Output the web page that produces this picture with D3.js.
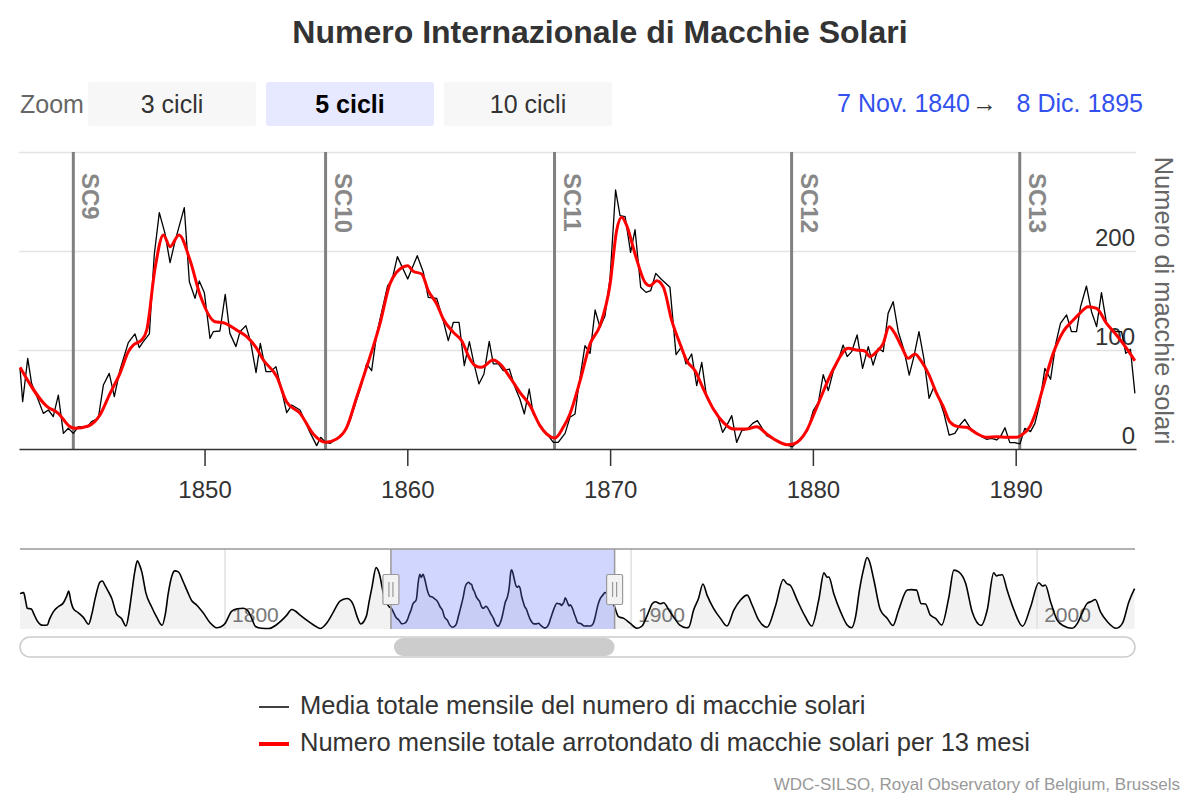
<!DOCTYPE html>
<html><head><meta charset="utf-8">
<script src="https://cdn.jsdelivr.net/npm/d3@7"></script>
<style>body{margin:0;background:#fff}svg{display:block;font-family:"Liberation Sans",Arial,Helvetica,sans-serif}</style>
</head><body><svg id="c" width="1200" height="800"></svg>
<script>
// ---------------- DATA ----------------
const titleText = "Numero Internazionale di Macchie Solari";
const zoomLabel = "Zoom";
const zoomButtons = ["3 cicli", "5 cicli", "10 cicli"];
const selectedButton = 1;
const rangeFrom = "7 Nov. 1840";
const rangeTo = "8 Dic. 1895";
const viewStart = [1840, 10, 7];   // y, m(0-based), d
const viewEnd = [1895, 11, 8];
const xTickYears = [1850, 1860, 1870, 1880, 1890];
const yGridTicks = [0, 100, 200, 300];
const yLabelTicks = [0, 100, 200];
const yAxisTitle = "Numero di macchie solari";
const cycleNames = ["SC9", "SC10", "SC11", "SC12", "SC13"];
const cycleStarts = [1843.53, 1855.97, 1867.26, 1878.95, 1890.2];
const navTickYears = [1800, 1900, 2000];
const navExtent = [1749.5, 2024.1];
const legendLabels = ["Media totale mensile del numero di macchie solari",
  "Numero mensile totale arrotondato di macchie solari per 13 mesi"];
const creditText = "WDC-SILSO, Royal Observatory of Belgium, Brussels";

const monthlyMean = [[1840.90,81.5],[1841.03,47.8],[1841.28,91.6],[1841.47,66.3],[1841.80,49.5],[1842.05,36.0],[1842.30,39.4],[1842.54,32.7],[1842.79,54.5],[1843.04,15.8],[1843.28,20.9],[1843.53,15.8],[1843.78,22.6],[1844.19,21.9],[1844.43,27.6],[1844.76,31.0],[1845.01,64.6],[1845.30,76.4],[1845.55,52.9],[1845.83,79.8],[1846.24,107.4],[1846.57,116.2],[1846.78,102.4],[1846.98,108.4],[1847.28,116.2],[1847.52,196.0],[1847.77,238.7],[1848.05,217.8],[1848.30,188.2],[1848.54,209.4],[1849.00,243.8],[1849.25,169.0],[1849.53,152.2],[1849.74,169.7],[1849.99,157.9],[1850.27,111.8],[1850.43,118.5],[1850.76,119.2],[1851.02,156.2],[1851.25,116.8],[1851.55,103.4],[1851.75,118.5],[1852.04,124.6],[1852.27,108.4],[1852.54,77.1],[1852.75,106.7],[1853.03,78.1],[1853.26,78.1],[1853.52,83.2],[1853.77,62.0],[1854.05,36.7],[1854.30,44.4],[1854.71,39.4],[1855.20,16.8],[1855.53,3.4],[1855.73,11.8],[1855.97,6.7],[1856.19,5.7],[1856.51,10.1],[1856.93,18.5],[1857.17,28.6],[1857.75,65.7],[1857.99,85.9],[1858.24,79.1],[1858.49,116.2],[1859.03,165.0],[1859.24,170.0],[1859.51,194.3],[1860.02,171.7],[1860.49,195.3],[1860.79,178.5],[1861.03,153.2],[1861.45,152.2],[1861.77,129.6],[1862.02,109.4],[1862.27,128.0],[1862.55,128.0],[1862.81,84.2],[1863.06,108.4],[1863.29,85.9],[1863.53,65.7],[1863.78,75.8],[1864.04,108.8],[1864.24,85.9],[1864.49,85.9],[1864.73,79.1],[1865.03,80.8],[1865.31,62.3],[1865.55,50.5],[1865.77,35.4],[1866.01,60.6],[1866.21,35.4],[1866.46,26.9],[1866.71,18.5],[1866.95,13.5],[1867.20,6.7],[1867.44,6.7],[1867.78,15.8],[1868.02,32.0],[1868.27,35.4],[1868.43,60.6],[1868.76,104.4],[1869.01,96.6],[1869.26,140.4],[1869.50,122.9],[1869.75,134.7],[1870.00,173.4],[1870.27,261.6],[1870.49,235.7],[1870.74,234.7],[1871.01,198.7],[1871.23,221.5],[1871.51,163.3],[1871.77,158.2],[1872.00,159.9],[1872.25,177.4],[1872.51,171.7],[1872.95,163.3],[1873.25,95.3],[1873.53,103.4],[1873.74,85.9],[1874.02,96.0],[1874.27,64.0],[1874.52,87.5],[1874.76,52.2],[1875.06,41.4],[1875.29,35.4],[1875.55,16.8],[1875.75,23.6],[1876.00,33.7],[1876.24,6.7],[1876.49,18.5],[1876.77,20.2],[1877.03,25.9],[1877.26,28.6],[1877.47,21.9],[1877.72,13.5],[1878.21,8.4],[1878.71,4.0],[1879.00,2.4],[1879.28,8.4],[1879.73,18.5],[1880.02,38.7],[1880.27,47.1],[1880.51,75.1],[1880.76,58.9],[1881.01,79.1],[1881.25,89.2],[1881.49,105.0],[1881.69,93.3],[1881.91,98.3],[1882.18,115.2],[1882.45,81.5],[1882.73,103.4],[1882.97,84.8],[1883.22,101.7],[1883.47,98.3],[1883.71,137.0],[1883.96,148.8],[1884.21,118.5],[1884.49,100.0],[1884.75,74.7],[1884.98,93.3],[1885.23,118.5],[1885.47,91.6],[1885.73,51.2],[1885.97,63.0],[1886.23,50.2],[1886.46,36.0],[1886.72,14.1],[1887.00,15.8],[1887.25,24.2],[1887.49,30.0],[1887.77,20.9],[1888.04,16.5],[1888.32,12.5],[1888.56,9.8],[1888.81,10.8],[1889.06,9.1],[1889.25,12.5],[1889.47,21.5],[1889.71,6.4],[1889.96,6.4],[1890.21,5.1],[1890.45,20.9],[1890.73,17.5],[1890.95,25.9],[1891.19,46.1],[1891.44,81.5],[1891.72,70.4],[1891.98,106.7],[1892.21,126.9],[1892.51,135.4],[1892.75,118.5],[1893.00,118.5],[1893.20,143.8],[1893.49,164.6],[1893.74,138.7],[1893.99,123.6],[1894.23,157.9],[1894.48,126.9],[1894.73,120.2],[1894.97,118.5],[1895.22,118.5],[1895.43,96.6],[1895.66,100.7],[1895.88,56.2]];

const smoothed13 = [[1840.90,82.5],[1842.21,43.4],[1842.79,36.0],[1843.36,22.6],[1843.61,20.9],[1844.27,23.2],[1844.84,34.3],[1845.34,56.2],[1845.83,76.4],[1846.24,98.3],[1846.49,105.0],[1846.90,110.1],[1847.15,120.2],[1847.56,182.5],[1847.97,216.2],[1848.30,204.4],[1848.74,216.2],[1849.28,190.9],[1849.78,155.6],[1850.52,128.6],[1850.93,127.6],[1851.58,120.2],[1852.08,113.5],[1852.57,101.7],[1852.90,89.9],[1853.56,73.1],[1854.05,47.5],[1854.71,36.0],[1855.36,15.2],[1855.97,6.7],[1856.51,10.1],[1857.01,21.9],[1857.50,52.2],[1857.99,82.5],[1858.65,126.3],[1859.14,166.7],[1859.47,178.5],[1860.02,185.2],[1860.29,179.5],[1860.71,176.8],[1861.03,159.9],[1861.45,146.5],[1861.77,131.3],[1862.27,117.8],[1862.68,109.4],[1863.09,90.9],[1863.34,84.2],[1863.66,82.5],[1864.24,89.9],[1864.57,85.9],[1865.06,72.4],[1865.55,57.2],[1866.05,43.8],[1866.54,23.6],[1867.12,11.8],[1867.28,11.1],[1867.69,21.9],[1868.02,35.4],[1868.52,69.0],[1869.01,106.1],[1869.50,124.6],[1870.00,166.7],[1870.32,220.5],[1870.57,234.0],[1870.82,225.6],[1871.23,197.0],[1871.72,168.4],[1871.97,165.0],[1872.30,170.0],[1872.63,163.3],[1873.04,129.6],[1873.45,106.1],[1873.78,89.2],[1874.19,79.1],[1874.60,60.6],[1875.09,40.4],[1875.58,26.9],[1876.08,20.2],[1876.73,20.2],[1877.23,22.6],[1877.72,15.2],[1878.21,8.4],[1878.71,4.4],[1879.04,5.1],[1879.69,18.5],[1880.19,42.1],[1881.01,80.8],[1881.74,101.7],[1882.15,100.0],[1882.56,99.0],[1882.81,93.3],[1883.14,98.3],[1883.47,106.7],[1883.76,123.6],[1884.04,116.8],[1884.37,103.4],[1884.70,91.6],[1885.03,96.0],[1885.36,88.2],[1885.69,76.4],[1886.10,56.2],[1886.43,42.8],[1886.75,27.6],[1887.17,22.6],[1887.58,21.9],[1888.07,15.8],[1888.56,11.8],[1889.06,12.5],[1889.55,11.8],[1890.04,11.8],[1890.29,14.1],[1890.70,22.6],[1891.03,39.4],[1891.36,63.0],[1891.85,96.6],[1892.34,118.5],[1892.84,130.3],[1893.16,137.0],[1893.57,143.8],[1893.99,142.1],[1894.48,126.9],[1894.97,115.2],[1895.47,101.7],[1895.88,89.2]];

const navBefore = [[1749.5,140],[1750.4,144],[1750.9,110],[1751.3,82],[1752.3,79],[1752.9,60],[1753.6,36],[1754.5,18],[1755.2,15],[1756.2,16],[1756.8,40],[1757.7,68],[1758.9,88],[1760.2,104],[1761.0,130],[1761.5,150],[1762.0,112],[1762.6,82],[1763.9,64],[1765.1,46],[1766.4,19],[1767.2,60],[1768.0,120],[1769.2,186],[1769.8,190],[1770.4,174],[1771.2,150],[1772.1,121],[1773.3,59],[1774.5,42],[1775.6,12],[1776.3,60],[1777.0,140],[1777.8,230],[1778.4,270],[1778.9,255],[1779.5,226],[1780.5,143],[1781.9,88],[1783.2,46],[1784.5,15],[1785.3,60],[1786.0,140],[1787.0,215],[1787.6,230],[1788.5,226],[1789.7,187],[1790.7,150],[1791.8,112],[1793.0,95],[1794.7,62],[1796.3,25],[1797.9,5],[1799.0,9],[1800.0,22],[1801.6,70],[1803.0,80],[1804.5,82],[1805.6,72],[1806.5,45],[1807.5,10],[1809.0,3],[1810.8,2],[1812.5,15],[1814.0,35],[1815.2,55],[1816.4,77],[1817.3,71],[1818.5,55],[1820.1,35],[1821.8,16],[1823.4,2],[1825.1,25],[1826.7,68],[1828.3,110],[1830.0,121],[1830.6,118],[1831.6,95],[1832.5,50],[1833.4,20],[1834.8,51],[1835.5,110],[1836.2,167],[1837.2,243],[1838.0,219],[1839.0,141],[1840.4,88]];

const navAfter = [[1896.9,49],[1898.2,42],[1899.8,22],[1901.5,3],[1902.7,12],[1904.0,55],[1905.2,100],[1906.0,108],[1907.2,100],[1908.0,104],[1909.5,70],[1910.8,40],[1912.0,15],[1913.6,5],[1914.2,7],[1915.4,75],[1916.6,121],[1917.7,178],[1918.7,134],[1920.3,82],[1922.0,42],[1923.6,12],[1925.3,75],[1926.9,114],[1928.6,134],[1929.8,95],[1931.4,36],[1933.5,7],[1935.5,88],[1937.5,196],[1938.3,180],[1939.2,173],[1940.9,114],[1942.9,49],[1944.5,12],[1946.2,114],[1947.5,222],[1948.3,205],[1948.7,206],[1949.9,141],[1951.6,68],[1953.2,16],[1954.3,5],[1955.3,50],[1956.2,150],[1957.3,240],[1958.1,283],[1958.6,272],[1959.8,193],[1961.4,75],[1963.1,42],[1964.5,14],[1965.9,75],[1968.0,154],[1969.0,156],[1970.3,154],[1971.4,101],[1972.5,99],[1973.7,55],[1975.0,42],[1976.5,16],[1978.2,121],[1979.5,233],[1980.7,226],[1982.4,180],[1984.0,68],[1986.2,14],[1987.7,75],[1989.3,222],[1990.0,210],[1990.4,213],[1991.4,215],[1992.6,154],[1994.3,75],[1996.4,11],[1998.4,88],[2000.4,183],[2001.4,170],[2002.0,174],[2003.3,108],[2004.9,36],[2006.6,12],[2008.6,3],[2009.9,22],[2011.0,60],[2012.3,101],[2013.5,110],[2014.3,117],[2015.6,68],[2017.3,29],[2019.5,3],[2021.0,22],[2022.6,108],[2024.0,160]];

// ---------------- DRAW ----------------
function toDate(d) {
  const yr = Math.floor(d), s = new Date(yr, 0, 1), e = new Date(yr + 1, 0, 1);
  return new Date(s.getTime() + (d - yr) * (e - s));
}
function toYear(dt) {
  const yr = dt.getFullYear(), s = new Date(yr, 0, 1), e = new Date(yr + 1, 0, 1);
  return yr + (dt - s) / (e - s);
}
const svg = d3.select("#c");
const P = {l: 19, r: 1136, t: 152, b: 449};
const vStart = new Date(...viewStart), vEnd = new Date(...viewEnd);
const x = d3.scaleTime().domain([vStart, vEnd]).range([P.l, P.r]);
const y = d3.scaleLinear().domain([0, 300]).range([P.b, P.t]);

// title
svg.append("text").attr("x", 600).attr("y", 43).attr("text-anchor", "middle")
  .attr("font-size", 32).attr("font-weight", "bold").attr("fill", "#333").text(titleText);

// range selector
svg.append("text").attr("x", 20).attr("y", 113).attr("font-size", 25).attr("fill", "#666").text(zoomLabel);
const btn = svg.append("g").selectAll("g").data(zoomButtons).join("g")
  .attr("transform", (d, i) => `translate(${88 + i * 178},82)`);
btn.append("rect").attr("width", 168).attr("height", 44).attr("rx", 3)
  .attr("fill", (d, i) => i === selectedButton ? "#e6e9ff" : "#f7f7f7");
btn.append("text").attr("x", 84).attr("y", 31).attr("text-anchor", "middle").attr("font-size", 25)
  .attr("font-weight", (d, i) => i === selectedButton ? "bold" : "normal")
  .attr("fill", (d, i) => i === selectedButton ? "#000" : "#333").text(d => d);
svg.append("text").attr("x", 970).attr("y", 112).attr("text-anchor", "end").attr("font-size", 25).attr("fill", "#3351ee").text(rangeFrom);
svg.append("text").attr("x", 972).attr("y", 112).attr("font-size", 25).attr("fill", "#333").text("\u2192");
svg.append("text").attr("x", 1143).attr("y", 112).attr("text-anchor", "end").attr("font-size", 25).attr("fill", "#3351ee").text(rangeTo);

// grid
svg.append("g").selectAll("line").data(yGridTicks.filter(v => v > 0)).join("line")
  .attr("x1", P.l).attr("x2", P.r).attr("y1", d => y(d) + 0.5).attr("y2", d => y(d) + 0.5)
  .attr("stroke", "#e3e3e3").attr("stroke-width", 1.5);
svg.append("g").selectAll("text").data(yLabelTicks).join("text")
  .attr("x", 1135).attr("y", d => y(d) - 5).attr("text-anchor", "end")
  .attr("font-size", 24).attr("fill", "#333").text(d => d);

// cycle lines
const cyc = svg.append("g").selectAll("g").data(cycleStarts).join("g");
cyc.append("line").attr("x1", d => x(toDate(d))).attr("x2", d => x(toDate(d)))
  .attr("y1", P.t).attr("y2", P.b).attr("stroke", "#808080").attr("stroke-width", 3);
cyc.append("text").attr("transform", d => `translate(${x(toDate(d)) + 9},173) rotate(90)`)
  .attr("font-size", 24).attr("font-weight", "bold").attr("fill", "#888").text((d, i) => cycleNames[i]);

// series
svg.append("clipPath").attr("id", "clip").append("rect")
  .attr("x", P.l).attr("y", P.t - 5).attr("width", P.r - P.l).attr("height", P.b - P.t + 5);
const gS = svg.append("g").attr("clip-path", "url(#clip)");
gS.append("path").datum(monthlyMean)
  .attr("d", d3.line().x(d => x(toDate(d[0]))).y(d => y(d[1])))
  .attr("fill", "none").attr("stroke", "#000").attr("stroke-width", 1.3).attr("stroke-linejoin", "round");
gS.append("path").datum(smoothed13)
  .attr("d", d3.line().curve(d3.curveMonotoneX).x(d => x(toDate(d[0]))).y(d => y(d[1])))
  .attr("fill", "none").attr("stroke", "#f00").attr("stroke-width", 3).attr("stroke-linejoin", "round");

// x axis
const ax = svg.append("g").attr("transform", `translate(0,${P.b})`)
  .call(d3.axisBottom(x).tickValues(xTickYears.map(v => new Date(v, 0, 1)))
    .tickFormat(d3.timeFormat("%Y")).tickSize(17).tickSizeOuter(0).tickPadding(15));
ax.attr("font-family", null).attr("font-size", 24);
ax.select(".domain").attr("stroke", "#333").attr("stroke-width", 1.5);
ax.selectAll(".tick line").attr("stroke", "#333").attr("stroke-width", 1.5);
ax.selectAll(".tick text").attr("fill", "#333");

// axis title
svg.append("text").attr("transform", `translate(1155,${(P.t + P.b) / 2}) rotate(90)`)
  .attr("text-anchor", "middle").attr("font-size", 25.5).attr("fill", "#666").text(yAxisTitle);

// ---------------- NAVIGATOR ----------------
const N = {t: 549, b: 629};
const nx = d3.scaleLinear().domain(navExtent).range([20, 1135]);
const ny = d3.scaleLinear().domain([0, 285]).range([N.b, 557]);
const navData = navBefore.concat(smoothed13, navAfter);
const ng = svg.append("g");
ng.append("path").datum(navData)
  .attr("d", d3.area().curve(d3.curveMonotoneX).x(d => nx(d[0])).y0(N.b).y1(d => ny(d[1])))
  .attr("fill", "#f2f2f2");
ng.selectAll("line.g").data(navTickYears).join("line").attr("class", "g")
  .attr("x1", d => nx(d)).attr("x2", d => nx(d)).attr("y1", N.t).attr("y2", N.b)
  .attr("stroke", "#e0e0e0").attr("stroke-width", 1.5);
ng.selectAll("text").data(navTickYears).join("text")
  .attr("x", d => nx(d) + 7).attr("y", 622).attr("font-size", 21).attr("fill", "#777").text(d => d);
ng.append("path").datum(navData)
  .attr("d", d3.line().curve(d3.curveMonotoneX).x(d => nx(d[0])).y(d => ny(d[1])))
  .attr("fill", "none").attr("stroke", "#000").attr("stroke-width", 1.6);
const sx0 = nx(toYear(vStart)), sx1 = nx(toYear(vEnd));
ng.append("rect").attr("x", sx0).attr("y", N.t).attr("width", sx1 - sx0).attr("height", N.b - N.t)
  .attr("fill", "rgba(102,120,255,0.3)");
ng.append("line").attr("x1", 20).attr("x2", 1135).attr("y1", N.t).attr("y2", N.t)
  .attr("stroke", "#999").attr("stroke-width", 1.5);
[sx0, sx1].forEach(sx => {
  ng.append("line").attr("x1", sx).attr("x2", sx).attr("y1", N.t).attr("y2", N.b)
    .attr("stroke", "#999").attr("stroke-width", 1.5);
  ng.append("rect").attr("x", sx - 8).attr("y", 574.5).attr("width", 16).attr("height", 30).attr("rx", 1.5)
    .attr("fill", "#f2f2f2").attr("stroke", "#999").attr("stroke-width", 1.2);
  [-2, 2].forEach(o => ng.append("line").attr("x1", sx + o).attr("x2", sx + o).attr("y1", 582).attr("y2", 597)
    .attr("stroke", "#999").attr("stroke-width", 1.2));
});
// scrollbar
ng.append("rect").attr("x", 20).attr("y", 637).attr("width", 1115).attr("height", 20).attr("rx", 10)
  .attr("fill", "#fff").attr("stroke", "#ccc").attr("stroke-width", 1.5);
ng.append("rect").attr("x", sx0 + 3).attr("y", 638).attr("width", sx1 - sx0 - 3).attr("height", 18).attr("rx", 9)
  .attr("fill", "#ccc");

// ---------------- LEGEND ----------------
const lg = svg.append("g").selectAll("g").data(legendLabels).join("g")
  .attr("transform", (d, i) => `translate(259,${705 + i * 37})`);
lg.append("line").attr("x1", 0).attr("x2", 30).attr("y1", 2).attr("y2", 2)
  .attr("stroke", (d, i) => i === 0 ? "#000" : "#f00").attr("stroke-width", (d, i) => i === 0 ? 1.5 : 4);
lg.append("text").attr("x", 41).attr("y", 9).attr("font-size", 25.5).attr("fill", "#333").text(d => d);

svg.append("text").attr("x", 1180).attr("y", 790).attr("text-anchor", "end").attr("font-size", 17)
  .attr("fill", "#999").text(creditText);
</script></body></html>
